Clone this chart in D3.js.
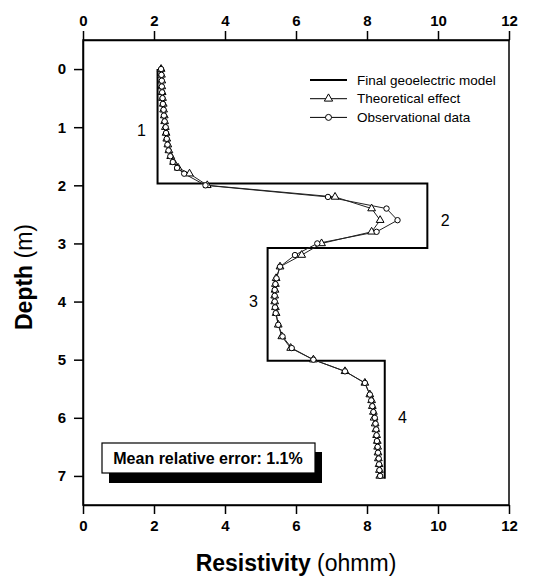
<!DOCTYPE html>
<meta charset="utf-8">
<style>
body { margin: 0; background: #fff; }
svg { display: block; font-family: "Liberation Sans", Arial, sans-serif; }
.axis text { font-size: 15px; font-weight: bold; fill: #000; }
.axis path, .axis line { stroke: #000; stroke-width: 1.5px; }
.legend text { font-size: 13.5px; }
</style>
<svg width="544" height="580"></svg>
<script src="https://d3js.org/d3.v7.min.js"></script>
<script>
// model layers: resistivity and depth to bottom
var layerRho = [2.1, 9.7, 5.2, 8.5];
var layerTop = [0, 1.97, 3.08, 5.02];
var layerBottom = [1.97, 3.08, 5.02, 7.05];

var depths = [0, 0.1, 0.2, 0.3, 0.4, 0.5, 0.6, 0.7, 0.8, 0.9, 1.0, 1.1, 1.2, 1.3, 1.4, 1.5, 1.6, 1.7, 1.8, 2.0,
  2.2, 2.4, 2.6, 2.8, 3.0, 3.2, 3.4, 3.6, 3.7, 3.8, 3.9, 4.0, 4.1, 4.2, 4.4, 4.6, 4.8, 5.0, 5.2, 5.4,
  5.6, 5.7, 5.8, 5.9, 6.0, 6.1, 6.2, 6.3, 6.4, 6.5, 6.6, 6.7, 6.8, 6.9, 7.0];
var observed = [2.2, 2.21, 2.22, 2.22, 2.23, 2.24, 2.25, 2.27, 2.28, 2.3, 2.33, 2.34, 2.36, 2.38, 2.41, 2.46, 2.53, 2.65, 2.85, 3.45,
  6.9, 8.55, 8.86, 8.27, 6.6, 5.97, 5.55, 5.45, 5.42, 5.4, 5.4, 5.4, 5.41, 5.43, 5.5, 5.62, 5.88, 6.49, 7.38, 7.94,
  8.08, 8.12, 8.15, 8.18, 8.22, 8.24, 8.26, 8.27, 8.28, 8.3, 8.31, 8.33, 8.34, 8.35, 8.37];
var theoretical = [2.2, 2.21, 2.22, 2.22, 2.23, 2.24, 2.26, 2.27, 2.29, 2.3, 2.32, 2.34, 2.36, 2.39, 2.42, 2.47, 2.55, 2.68, 3.0, 3.5,
  7.1, 8.13, 8.37, 8.13, 6.72, 6.16, 5.55, 5.44, 5.42, 5.41, 5.4, 5.4, 5.42, 5.44, 5.5, 5.6, 5.85, 6.49, 7.38, 7.94,
  8.08, 8.13, 8.15, 8.18, 8.2, 8.23, 8.25, 8.27, 8.29, 8.3, 8.31, 8.32, 8.34, 8.35, 8.36];

var layerLabels = ["1", "2", "3", "4"];
var labelPos = [[1.65, 1.05], [10.2, 2.6], [4.8, 4.0], [9.0, 6.0]];
var xTicks = [0, 2, 4, 6, 8, 10, 12];
var yTicks = [0, 1, 2, 3, 4, 5, 6, 7];
var legendNames = ["Final geoelectric model", "Theoretical effect", "Observational data"];

var svg = d3.select("svg");
var x = d3.scaleLinear().domain([0, 12]).range([83, 509]);
var y = d3.scaleLinear().domain([-0.5, 7.5]).range([40, 505]);

// frame
svg.append("rect")
    .attr("x", x(0)).attr("y", y(-0.5))
    .attr("width", x(12) - x(0)).attr("height", y(7.5) - y(-0.5))
    .attr("fill", "none").attr("stroke", "#000").attr("stroke-width", 1.5);

svg.append("g").attr("class", "axis")
    .attr("transform", "translate(0," + y(-0.5) + ")")
    .call(d3.axisTop(x).tickValues(xTicks).tickSize(9).tickSizeOuter(0).tickPadding(5));
svg.append("g").attr("class", "axis")
    .attr("transform", "translate(0," + y(7.5) + ")")
    .call(d3.axisBottom(x).tickValues(xTicks).tickSize(9).tickSizeOuter(0).tickPadding(6));
svg.append("g").attr("class", "axis")
    .attr("transform", "translate(" + x(0) + ",0)")
    .call(d3.axisLeft(y).tickValues(yTicks).tickSize(9).tickSizeOuter(0).tickPadding(8));

// model step line
var modelPts = [];
layerRho.forEach(function(r, i) {
  modelPts.push([r, layerTop[i]]);
  modelPts.push([r, layerBottom[i]]);
});
var line = d3.line().x(function(d) { return x(d[0]); }).y(function(d) { return y(d[1]); });
svg.append("path").datum(modelPts)
    .attr("d", line)
    .attr("fill", "none").attr("stroke", "#000").attr("stroke-width", 2);

var obsPts = depths.map(function(d, i) { return [observed[i], d]; });
var thPts = depths.map(function(d, i) { return [theoretical[i], d]; });

svg.append("path").datum(obsPts).attr("d", line)
    .attr("fill", "none").attr("stroke", "#222").attr("stroke-width", 1);
svg.append("path").datum(thPts).attr("d", line)
    .attr("fill", "none").attr("stroke", "#222").attr("stroke-width", 1);

var tri = d3.symbol().type(d3.symbolTriangle).size(26);
svg.append("g").selectAll("path").data(thPts).enter().append("path")
    .attr("d", tri)
    .attr("transform", function(d) { return "translate(" + x(d[0]) + "," + y(d[1]) + ")"; })
    .attr("fill", "#fff").attr("stroke", "#000").attr("stroke-width", 1);
svg.append("g").selectAll("circle").data(obsPts).enter().append("circle")
    .attr("cx", function(d) { return x(d[0]); })
    .attr("cy", function(d) { return y(d[1]); })
    .attr("r", 2.7)
    .attr("fill", "#fff").attr("stroke", "#000").attr("stroke-width", 1);

// layer numbers
svg.append("g").selectAll("text").data(layerLabels).enter().append("text")
    .attr("x", function(d, i) { return x(labelPos[i][0]); })
    .attr("y", function(d, i) { return y(labelPos[i][1]); })
    .attr("dy", "0.35em")
    .attr("text-anchor", "middle")
    .style("font-size", "16px")
    .text(function(d) { return d; });

// legend
var legend = svg.append("g").attr("class", "legend").attr("transform", "translate(310,80)");
legendNames.forEach(function(name, i) {
  var g = legend.append("g").attr("transform", "translate(0," + (i * 18.7) + ")");
  g.append("line").attr("x1", 0).attr("x2", 37).attr("y1", 0).attr("y2", 0)
      .attr("stroke", "#000").attr("stroke-width", i === 0 ? 2 : 1);
  if (i === 1) {
    g.append("path").attr("d", d3.symbol().type(d3.symbolTriangle).size(30))
        .attr("transform", "translate(18.5,0)")
        .attr("fill", "#fff").attr("stroke", "#000");
  } else if (i === 2) {
    g.append("circle").attr("cx", 18.5).attr("cy", 0).attr("r", 3)
        .attr("fill", "#fff").attr("stroke", "#000");
  }
  g.append("text").attr("x", 47).attr("y", 0).attr("dy", "0.35em").text(name);
});

// error box with shadow
svg.append("rect").attr("x", 109).attr("y", 452).attr("width", 213).attr("height", 31).attr("fill", "#000");
svg.append("rect").attr("x", 102).attr("y", 443).attr("width", 213).attr("height", 30)
    .attr("fill", "#fff").attr("stroke", "#000").attr("stroke-width", 1.2);
svg.append("text").attr("x", 208).attr("y", 458).attr("dy", "0.35em")
    .attr("text-anchor", "middle")
    .style("font-size", "16px").style("font-weight", "bold")
    .text("Mean relative error: 1.1%");

// axis titles
var xt = svg.append("text").attr("x", 296).attr("y", 571).attr("text-anchor", "middle")
    .style("font-size", "23px");
xt.append("tspan").style("font-weight", "bold").text("Resistivity");
xt.append("tspan").text(" (ohmm)");

var yt = svg.append("text").attr("transform", "translate(32,277) rotate(-90)").attr("text-anchor", "middle")
    .style("font-size", "23px");
yt.append("tspan").style("font-weight", "bold").text("Depth");
yt.append("tspan").text(" (m)");
</script>
